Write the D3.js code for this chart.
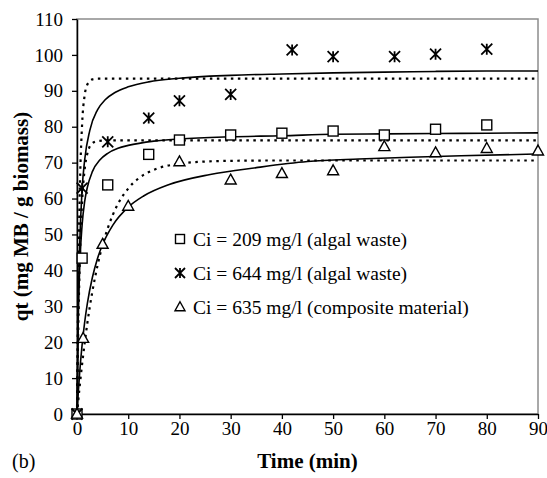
<!DOCTYPE html>
<html>
<head>
<meta charset="utf-8">
<script src="https://cdn.jsdelivr.net/npm/d3@7"></script>
<style>
  html, body { margin: 0; padding: 0; background: #fff; }
  svg { display: block; }
  text { font-family: "Liberation Serif", "Times New Roman", serif; fill: #000; }
</style>
</head>
<body>
<svg id="chart" width="547" height="478"></svg>
<script>
// ---- data ----
const xTicks = [0, 10, 20, 30, 40, 50, 60, 70, 80, 90];
const yTicks = [0, 10, 20, 30, 40, 50, 60, 70, 80, 90, 100, 110];

const seriesNames = [
  "Ci = 209 mg/l (algal waste)",
  "Ci = 644 mg/l (algal waste)",
  "Ci = 635 mg/l (composite material)"
];

// experimental points [time, qt]
const pts209 = [[0,0],[1,43.4],[6,63.8],[14,72.3],[20,76.3],[30,77.7],[40,78.2],[50,78.8],[60,77.7],[70,79.3],[80,80.5]];
const pts644 = [[0,0],[1,62.9],[6,75.8],[14,82.4],[20,87.2],[30,89.0],[42,101.4],[50,99.5],[62,99.5],[70,100.2],[80,101.6]];
const pts635 = [[0,0],[1.2,21.1],[5,47.3],[10,57.9],[20,70.3],[30,65.2],[40,67.0],[50,67.8],[60,74.5],[70,72.8],[80,74.0],[90,73.3]];

// fitted curves (solid and dotted)
const solid209 = [[0,0],[0.25,26.5],[0.5,39.6],[1,52.7],[1.5,59.2],[2,63],[3,67.5],[4.5,70.8],[6,72.6],[8,74],[10,74.8],[15,76],[20,76.6],[30,77.2],[40,77.5],[50,77.9],[60,78],[70,78.1],[80,78.2],[90,78.3]];
const dotted209 = [[0,0],[0.25,23.9],[0.5,40.2],[1,59.2],[1.5,68.2],[2,72.4],[3,75.4],[4,76],[6,76.2],[90,76.2]];
const solid644 = [[0,0],[0.25,30.6],[0.5,46],[1,62.6],[1.5,70.8],[2.5,79],[4,84.7],[5.5,87.5],[7.5,89.6],[10,91.1],[14,92.5],[20,93.5],[30,94.3],[40,94.7],[50,95.0],[60,95.2],[70,95.4],[80,95.5],[90,95.5]];
const dotted644 = [[0,0],[0.25,36.7],[0.5,59],[1,80.8],[1.5,88.8],[2,91.7],[3,93.2],[4,93.4],[90,93.4]];
const solid635 = [[0,0],[0.25,6],[0.5,11.1],[1,19.3],[1.5,25.6],[2,30.6],[3,38],[4,43.3],[5,47.2],[7,52.6],[10,57.6],[13,60.7],[18,63.9],[26,66.7],[35,68.6],[45,70.3],[55,71],[65,71.5],[75,71.9],[90,72.4]];
const dotted635 = [[0,0],[0.5,7.4],[1,13.9],[2,25.1],[3,34.1],[4,41.3],[5,47.1],[6,51.7],[7,55.5],[8,58.5],[10,62.8],[12,65.6],[15,68],[20,69.7],[25,70.3],[30,70.5],[40,70.6],[90,70.6]];

// ---- layout ----
const svg = d3.select("#chart");
const X0 = 77, X1 = 538, Y0 = 414, Y1 = 19;
const x = d3.scaleLinear().domain([0, 90]).range([X0, X1]);
const y = d3.scaleLinear().domain([0, 110]).range([Y0, Y1]);

svg.append("rect").attr("width", 547).attr("height", 478).attr("fill", "#fff");

// plot border (gray)
svg.append("rect")
  .attr("x", X0).attr("y", Y1).attr("width", X1 - X0).attr("height", Y0 - Y1)
  .attr("fill", "none").attr("stroke", "#8c8c8c").attr("stroke-width", 1.5);

// curves
const line = d3.line().x(d => x(d[0])).y(d => y(d[1])).curve(d3.curveMonotoneX);
const g = svg.append("g");
[solid209, solid644, solid635].forEach(s => {
  g.append("path").attr("d", line(s)).attr("fill", "none")
    .attr("stroke", "#000").attr("stroke-width", 1.6);
});
[dotted209, dotted644, dotted635].forEach(s => {
  g.append("path").attr("d", line(s)).attr("fill", "none")
    .attr("stroke", "#000").attr("stroke-width", 2.2)
    .attr("stroke-dasharray", "2.5,4.5");
});

// axes
const yAxis = d3.axisLeft(y).tickValues(yTicks).tickSize(5).tickSizeOuter(0).tickPadding(9);
const xAxis = d3.axisBottom(x).tickValues(xTicks).tickSize(5).tickSizeOuter(0).tickPadding(3);

const gy = svg.append("g").attr("transform", `translate(${X0},0)`).call(yAxis);
const gx = svg.append("g").attr("transform", `translate(0,${Y0})`).call(xAxis);
[gx, gy].forEach(a => {
  a.selectAll("path").attr("stroke", "#000").attr("stroke-width", 1.5);
  a.selectAll("line").attr("stroke", "#000").attr("stroke-width", 1.3);
  a.selectAll("text").attr("font-size", 19).attr("font-family", "Liberation Serif");
});

// markers
function drawMarker(sel, type, cx, cy, s) {
  if (type === "square") {
    sel.append("rect").attr("x", cx - s/2).attr("y", cy - s/2).attr("width", s).attr("height", s)
      .attr("fill", "#fff").attr("stroke", "#000").attr("stroke-width", 1.4);
  } else if (type === "triangle") {
    const h = s * 0.9;
    sel.append("path")
      .attr("d", `M${cx},${cy - h*0.58}L${cx + s/2},${cy + h*0.42}L${cx - s/2},${cy + h*0.42}Z`)
      .attr("fill", "#fff").attr("stroke", "#000").attr("stroke-width", 1.4);
  } else {
    const r = s / 2;
    sel.append("path")
      .attr("d", `M${cx - r},${cy - r}L${cx + r},${cy + r}M${cx - r},${cy + r}L${cx + r},${cy - r}M${cx},${cy - r}L${cx},${cy + r}`)
      .attr("fill", "none").attr("stroke", "#000").attr("stroke-width", 1.8);
  }
}
const gm = svg.append("g");
pts209.forEach(d => drawMarker(gm, "square", x(d[0]), y(d[1]), 10));
pts644.forEach(d => drawMarker(gm, "star", x(d[0]), y(d[1]), 11));
pts635.forEach(d => drawMarker(gm, "triangle", x(d[0]), y(d[1]), 11));

// legend
const legTypes = ["square", "star", "triangle"];
const legY = [239, 273, 307];
seriesNames.forEach((name, i) => {
  drawMarker(svg, legTypes[i], 180, legY[i], legTypes[i] === "square" ? 9 : 10);
  svg.append("text").attr("x", 193).attr("y", legY[i] + 6.5)
    .attr("font-size", 19.5).text(name);
});

// axis titles
svg.append("text").attr("x", (X0 + X1) / 2).attr("y", 468)
  .attr("text-anchor", "middle").attr("font-weight", "bold").attr("font-size", 21)
  .text("Time (min)");
svg.append("text")
  .attr("transform", `translate(28,${(Y0 + Y1) / 2}) rotate(-90)`)
  .attr("text-anchor", "middle").attr("font-weight", "bold").attr("font-size", 21)
  .text("qt (mg MB / g biomass)");
svg.append("text").attr("x", 12).attr("y", 468).attr("font-size", 20).text("(b)");
</script>
</body>
</html>
